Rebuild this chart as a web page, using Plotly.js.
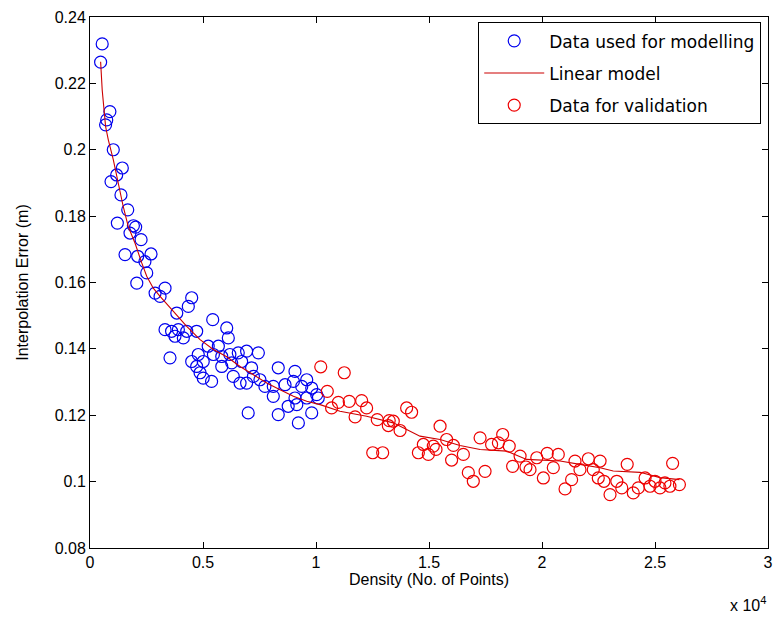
<!DOCTYPE html>
<html>
<head>
<meta charset="utf-8">
<script src="https://cdn.plot.ly/plotly-3.0.1.min.js"></script>
<style>html,body{margin:0;padding:0;background:#fff;}#chart{width:774px;height:619px;}</style>
</head>
<body>
<div id="chart"></div>
<script>
// Data used for modelling (blue)
const modelDataX = [540,470,880,740,690,1030,1430,1180,930,1370,1670,1210,1920,2020,1770,2260,1550,2110,2700,2430,2510,2070,3320,2880,3100,4500,4350,3840,5430,6050,6120,3320,3610,3910,4280,4720,4130,3760,3540,5230,5680,4790,4500,5010,5460,5830,6190,6560,6930,7450,5830,6270,6710,4720,4870,5010,5380,6340,6640,7150,7230,6930,7520,7740,8330,8110,8630,9070,9000,9590,9370,9810,10030,8110,9070,9590,8770,9150,7000,8330,9810,9220,10100];
const modelDataY = [0.2319,0.2264,0.2115,0.2090,0.2075,0.2000,0.1945,0.1924,0.1904,0.1864,0.1819,0.1779,0.1771,0.1767,0.1749,0.1729,0.1684,0.1679,0.1686,0.1663,0.1629,0.1598,0.1583,0.1568,0.1558,0.1554,0.1528,0.1508,0.1488,0.1463,0.1433,0.1458,0.1453,0.1458,0.1453,0.1453,0.1433,0.1438,0.1373,0.1408,0.1408,0.1383,0.1362,0.1362,0.1383,0.1377,0.1383,0.1388,0.1393,0.1388,0.1347,0.1358,0.1362,0.1347,0.1328,0.1312,0.1302,0.1317,0.1297,0.1343,0.1317,0.1297,0.1307,0.1287,0.1343,0.1287,0.1292,0.1332,0.1302,0.1307,0.1287,0.1282,0.1262,0.1257,0.1252,0.1252,0.1227,0.1232,0.1207,0.1202,0.1207,0.1177,0.1252];

// Linear model curve (red line)
const fitX = [470,540,690,810,1030,1250,1470,1690,1990,2290,2510,2800,3100,3690,4280,4870,5460,6050,6640,7230,7820,8410,9000,9590,10180,11060,12240,13420,14600,15490,16370,17260,18440,19320,20800,21680,22570,23150,24340,25220,26080];
const fitY = [0.2265,0.2180,0.2070,0.2030,0.1970,0.1894,0.1829,0.1769,0.1719,0.1659,0.1619,0.1583,0.1558,0.1513,0.1468,0.1428,0.1398,0.1376,0.1347,0.1322,0.1297,0.1277,0.1257,0.1242,0.1232,0.1212,0.1197,0.1177,0.1137,0.1127,0.1109,0.1097,0.1092,0.1067,0.1062,0.1052,0.1042,0.1032,0.1028,0.1012,0.1006];

// Data for validation (red)
const validX = [10210,11250,10500,10990,10690,11470,12020,12240,11730,12710,13240,13420,13200,13720,14010,14230,12510,12950,15490,15780,14750,15190,14530,14970,15310,16080,16000,16520,17260,17770,18070,18260,18550,19030,18700,19290,19470,19770,20230,20720,20500,20060,16740,17480,16960,21460,22050,21680,22270,21310,21020,22490,22570,22740,23310,23010,23530,23770,24040,24260,24560,24780,25000,25220,25440,25660,26080,25780];
const validY = [0.1346,0.1328,0.1272,0.1239,0.1222,0.1242,0.1244,0.1222,0.1195,0.1187,0.1184,0.1182,0.1169,0.1154,0.1222,0.1209,0.1087,0.1087,0.1167,0.1127,0.1112,0.1107,0.1087,0.1082,0.1097,0.1109,0.1065,0.1082,0.1132,0.1112,0.1117,0.1142,0.1107,0.1077,0.1046,0.1044,0.1036,0.1072,0.1085,0.1082,0.1042,0.1011,0.1027,0.1031,0.1001,0.1062,0.1069,0.1036,0.1036,0.1006,0.0978,0.1011,0.1062,0.1001,0.1001,0.0961,0.0981,0.1052,0.0966,0.0981,0.1011,0.0986,0.1001,0.0981,0.0996,0.0986,0.0991,0.1055];

const xTickVals = [0,5000,10000,15000,20000,25000,30000];
const xTickText = ['0','0.5','1','1.5','2','2.5','3'];
const yTickVals = [0.08,0.10,0.12,0.14,0.16,0.18,0.20,0.22,0.24];
const yTickText = ['0.08','0.1','0.12','0.14','0.16','0.18','0.2','0.22','0.24'];

const tickFont = {family: '"Liberation Sans Narrow", "Arial Narrow", "Liberation Sans", Arial, sans-serif', size: 16, color: '#000'};

const traces = [
  {x: modelDataX, y: modelDataY, type: 'scatter', mode: 'markers', name: 'Data used for modelling',
   legendgroup: 'a',
   marker: {symbol: 'circle-open', size: 12, color: '#0000ee', line: {width: 1.2, color: '#0000ee'}}},
  {x: fitX, y: fitY, type: 'scatter', mode: 'lines', name: 'Linear model',
   legendgroup: 'b',
   line: {color: '#cc0000', width: 1.1}},
  {x: validX, y: validY, type: 'scatter', mode: 'markers', name: 'Data for validation',
   legendgroup: 'c',
   marker: {symbol: 'circle-open', size: 12, color: '#ee0000', line: {width: 1.2, color: '#ee0000'}}}
];

const layout = {
  width: 774, height: 619,
  margin: {l: 90, r: 6, t: 17, b: 71},
  paper_bgcolor: '#fff', plot_bgcolor: '#fff',
  showlegend: true,
  legend: {x: 0.99, y: 0.99, xanchor: 'right', yanchor: 'top',
           bordercolor: '#000', borderwidth: 1, bgcolor: '#fff',
           traceorder: 'grouped', tracegroupgap: 7, itemwidth: 60,
           font: {family: '"DejaVu Sans", Verdana, sans-serif', size: 17, color: '#000'}},
  xaxis: {range: [0, 30000], tickvals: xTickVals, ticktext: xTickText,
          ticks: 'inside', ticklen: 6, tickcolor: '#000', showline: true, linecolor: '#000', linewidth: 1,
          mirror: 'ticks', showgrid: false, zeroline: false, tickfont: tickFont,
          title: {text: 'Density (No. of Points)', font: tickFont, standoff: 2}},
  yaxis: {range: [0.08, 0.24], tickvals: yTickVals, ticktext: yTickText,
          ticks: 'inside', ticklen: 6, tickcolor: '#000', showline: true, linecolor: '#000', linewidth: 1,
          mirror: 'ticks', showgrid: false, zeroline: false, tickfont: tickFont,
          title: {text: 'Interpolation Error (m)', font: tickFont, standoff: 22}},
  annotations: [{xref: 'paper', yref: 'paper', x: 1.0, y: 0, xanchor: 'right', yanchor: 'top', yshift: -44,
                 text: 'x 10<sup>4</sup>', showarrow: false, font: tickFont}]
};

Plotly.newPlot('chart', traces, layout, {displayModeBar: false});
</script>
</body>
</html>
